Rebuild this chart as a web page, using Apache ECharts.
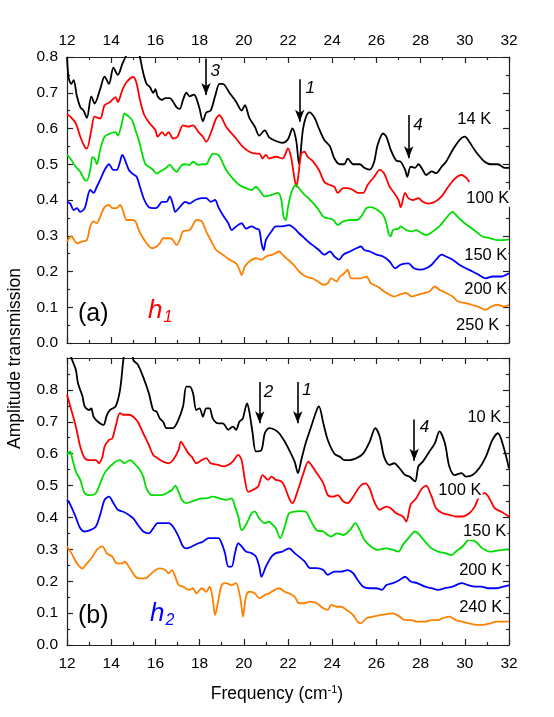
<!DOCTYPE html>
<html>
<head>
<meta charset="utf-8">
<script src="https://cdn.jsdelivr.net/npm/echarts@6/dist/echarts.min.js"></script>
<style>
  html, body { margin: 0; padding: 0; background: #fff; }
  #chart { width: 554px; height: 717px; }
</style>
</head>
<body>
<div id="chart"></div>
<script>
// ---- panel (a), h1 ----
const aBlack = [[12.0,0.80],[12.08,0.74],[12.2,0.725],[12.3,0.735],[12.45,0.69],[12.6,0.66],[12.75,0.65],[12.9,0.63],[13.1,0.69],[13.25,0.67],[13.5,0.71],[13.7,0.745],[13.9,0.725],[14.1,0.77],[14.3,0.75],[14.5,0.78],[14.65,0.80],[14.9,0.84],[15.1,0.85],[15.3,0.80],[15.45,0.755],[15.6,0.725],[15.75,0.716],[15.9,0.70],[16.0,0.71],[16.1,0.69],[16.3,0.68],[16.45,0.685],[16.65,0.685],[16.8,0.675],[16.95,0.66],[17.1,0.655],[17.25,0.68],[17.4,0.70],[17.55,0.69],[17.75,0.695],[17.85,0.685],[18.0,0.655],[18.15,0.62],[18.3,0.645],[18.5,0.65],[18.7,0.69],[18.9,0.725],[19.05,0.725],[19.35,0.70],[19.65,0.675],[19.9,0.65],[20.05,0.665],[20.25,0.63],[20.5,0.605],[20.7,0.58],[20.95,0.595],[21.15,0.575],[21.45,0.565],[21.75,0.56],[22.0,0.57],[22.2,0.60],[22.37,0.567],[22.5,0.50],[22.67,0.595],[22.8,0.63],[22.97,0.645],[23.2,0.63],[23.4,0.60],[23.65,0.567],[23.9,0.55],[24.1,0.516],[24.35,0.50],[24.55,0.50],[24.7,0.516],[24.95,0.50],[25.25,0.50],[25.45,0.49],[25.7,0.485],[25.9,0.507],[26.05,0.553],[26.3,0.586],[26.45,0.577],[26.65,0.54],[26.9,0.51],[27.1,0.507],[27.3,0.484],[27.4,0.465],[27.55,0.493],[27.75,0.49],[27.9,0.50],[28.1,0.484],[28.25,0.47],[28.5,0.48],[28.7,0.475],[28.95,0.493],[29.15,0.507],[29.45,0.54],[29.75,0.567],[30.0,0.577],[30.2,0.563],[30.5,0.535],[30.9,0.507],[31.2,0.50],[31.5,0.50],[31.8,0.49],[32.0,0.49]];
const aRed = [[12.0,0.64],[12.15,0.633],[12.4,0.614],[12.6,0.577],[12.8,0.549],[12.9,0.544],[13.1,0.595],[13.25,0.633],[13.5,0.628],[13.7,0.665],[13.95,0.674],[14.2,0.688],[14.3,0.674],[14.5,0.707],[14.7,0.73],[15.0,0.744],[15.15,0.726],[15.3,0.68],[15.5,0.637],[15.75,0.614],[16.0,0.595],[16.1,0.577],[16.3,0.59],[16.45,0.58],[16.6,0.59],[16.8,0.572],[17.0,0.577],[17.25,0.609],[17.5,0.605],[17.7,0.609],[17.95,0.59],[18.15,0.577],[18.3,0.563],[18.5,0.586],[18.75,0.628],[18.9,0.637],[19.2,0.605],[19.65,0.572],[19.95,0.549],[20.25,0.535],[20.55,0.53],[20.7,0.53],[20.85,0.516],[21.0,0.526],[21.15,0.516],[21.45,0.521],[21.75,0.516],[22.0,0.544],[22.15,0.516],[22.28,0.465],[22.38,0.437],[22.48,0.474],[22.6,0.53],[22.75,0.535],[22.9,0.52],[23.1,0.51],[23.4,0.484],[23.65,0.45],[23.9,0.442],[24.1,0.437],[24.25,0.42],[24.5,0.433],[24.7,0.433],[24.95,0.428],[25.15,0.42],[25.4,0.42],[25.6,0.442],[25.9,0.465],[26.15,0.484],[26.35,0.474],[26.6,0.437],[26.8,0.42],[27.0,0.40],[27.1,0.38],[27.3,0.42],[27.45,0.405],[27.65,0.40],[27.9,0.405],[28.1,0.395],[28.35,0.39],[28.65,0.395],[28.95,0.41],[29.25,0.437],[29.55,0.46],[29.85,0.47],[30.1,0.46],[30.2,0.45]];
const aGreen = [[12.0,0.526],[12.15,0.516],[12.4,0.493],[12.6,0.479],[12.8,0.456],[12.9,0.454],[13.05,0.484],[13.15,0.52],[13.25,0.516],[13.35,0.50],[13.5,0.54],[13.7,0.577],[13.95,0.586],[14.2,0.59],[14.3,0.58],[14.5,0.619],[14.6,0.642],[14.8,0.633],[14.95,0.623],[15.1,0.595],[15.25,0.567],[15.4,0.53],[15.55,0.50],[15.7,0.493],[15.9,0.484],[16.05,0.474],[16.2,0.479],[16.45,0.488],[16.65,0.498],[16.85,0.484],[16.95,0.479],[17.2,0.498],[17.35,0.50],[17.55,0.498],[17.7,0.507],[17.95,0.498],[18.1,0.50],[18.3,0.50],[18.45,0.516],[18.6,0.53],[18.85,0.526],[19.0,0.51],[19.2,0.484],[19.5,0.46],[19.8,0.442],[20.1,0.433],[20.35,0.428],[20.55,0.437],[20.7,0.428],[20.95,0.41],[21.25,0.414],[21.55,0.42],[21.7,0.40],[21.8,0.353],[21.9,0.344],[22.0,0.38],[22.15,0.42],[22.35,0.442],[22.45,0.437],[22.67,0.42],[23.0,0.40],[23.3,0.38],[23.6,0.353],[23.8,0.349],[24.05,0.344],[24.25,0.33],[24.5,0.34],[24.8,0.344],[25.1,0.344],[25.3,0.353],[25.55,0.377],[25.75,0.38],[26.05,0.372],[26.3,0.358],[26.45,0.335],[26.55,0.307],[26.65,0.298],[26.75,0.316],[27.0,0.32],[27.1,0.326],[27.35,0.316],[27.6,0.312],[27.8,0.316],[28.05,0.307],[28.25,0.302],[28.55,0.312],[28.85,0.326],[29.15,0.349],[29.45,0.367],[29.6,0.358],[29.9,0.34],[30.2,0.326],[30.5,0.312],[30.8,0.298],[31.15,0.293],[31.45,0.288],[31.75,0.288],[32.0,0.29]];
const aBlue = [[12.0,0.395],[12.15,0.39],[12.3,0.372],[12.45,0.377],[12.6,0.367],[12.8,0.377],[13.05,0.428],[13.2,0.42],[13.35,0.437],[13.5,0.456],[13.7,0.484],[13.9,0.50],[14.1,0.484],[14.25,0.484],[14.4,0.507],[14.5,0.526],[14.6,0.516],[14.8,0.484],[14.95,0.474],[15.15,0.465],[15.3,0.437],[15.5,0.40],[15.7,0.38],[15.9,0.377],[16.1,0.38],[16.3,0.395],[16.5,0.395],[16.65,0.41],[16.8,0.386],[16.9,0.367],[17.1,0.38],[17.35,0.395],[17.55,0.39],[17.8,0.40],[18.1,0.405],[18.3,0.405],[18.5,0.395],[18.7,0.40],[18.85,0.38],[19.05,0.358],[19.3,0.335],[19.45,0.316],[19.65,0.326],[19.9,0.335],[20.1,0.32],[20.35,0.326],[20.55,0.32],[20.7,0.316],[20.8,0.279],[20.9,0.26],[21.0,0.288],[21.25,0.312],[21.45,0.326],[21.75,0.326],[22.05,0.33],[22.3,0.32],[22.5,0.307],[22.75,0.293],[23.0,0.279],[23.2,0.27],[23.4,0.26],[23.65,0.247],[23.9,0.256],[24.1,0.242],[24.3,0.233],[24.5,0.247],[24.8,0.256],[25.1,0.265],[25.3,0.27],[25.45,0.26],[25.7,0.256],[26.0,0.247],[26.3,0.242],[26.6,0.228],[26.85,0.209],[27.1,0.219],[27.45,0.223],[27.7,0.209],[28.0,0.205],[28.25,0.209],[28.5,0.219],[28.7,0.233],[28.95,0.247],[29.15,0.242],[29.45,0.233],[29.75,0.219],[30.05,0.209],[30.35,0.20],[30.65,0.19],[30.95,0.181],[31.25,0.186],[31.65,0.186],[32.0,0.195]];
const aOrange = [[12.0,0.284],[12.2,0.298],[12.45,0.279],[12.7,0.284],[12.9,0.288],[13.05,0.326],[13.2,0.34],[13.35,0.335],[13.5,0.353],[13.7,0.38],[13.9,0.386],[14.05,0.377],[14.25,0.377],[14.4,0.386],[14.55,0.367],[14.7,0.344],[14.95,0.344],[15.1,0.34],[15.25,0.316],[15.4,0.298],[15.6,0.279],[15.85,0.265],[16.05,0.27],[16.2,0.279],[16.35,0.293],[16.65,0.293],[16.8,0.288],[16.95,0.274],[17.1,0.288],[17.25,0.312],[17.55,0.316],[17.7,0.33],[17.85,0.344],[18.1,0.34],[18.3,0.312],[18.5,0.288],[18.75,0.26],[19.05,0.247],[19.35,0.233],[19.65,0.223],[19.8,0.205],[19.9,0.19],[20.05,0.214],[20.25,0.228],[20.55,0.237],[20.8,0.233],[21.0,0.242],[21.3,0.247],[21.6,0.256],[21.75,0.247],[22.0,0.233],[22.25,0.219],[22.5,0.20],[22.8,0.186],[23.1,0.181],[23.35,0.172],[23.6,0.163],[23.8,0.167],[23.95,0.181],[24.2,0.172],[24.35,0.186],[24.55,0.195],[24.7,0.205],[24.85,0.181],[25.1,0.181],[25.3,0.181],[25.55,0.186],[25.75,0.167],[26.05,0.158],[26.35,0.144],[26.6,0.135],[26.8,0.13],[27.05,0.135],[27.35,0.14],[27.6,0.13],[27.9,0.135],[28.2,0.14],[28.4,0.144],[28.65,0.158],[28.85,0.149],[29.15,0.14],[29.45,0.13],[29.7,0.116],[30.0,0.112],[30.3,0.107],[30.6,0.102],[30.95,0.093],[31.2,0.102],[31.5,0.107],[31.75,0.102],[32.0,0.107]];

// ---- panel (b), h2 ----
const bBlack = [[12.0,0.95],[12.2,0.90],[12.4,0.863],[12.5,0.82],[12.7,0.78],[12.8,0.748],[13.0,0.737],[13.1,0.742],[13.2,0.716],[13.4,0.70],[13.65,0.69],[13.8,0.72],[13.95,0.737],[14.2,0.748],[14.4,0.80],[14.55,0.894],[14.7,0.96],[14.9,0.96],[15.0,0.894],[15.2,0.88],[15.45,0.84],[15.7,0.79],[15.9,0.737],[16.05,0.732],[16.2,0.71],[16.35,0.70],[16.5,0.68],[16.65,0.68],[16.8,0.68],[17.0,0.70],[17.25,0.748],[17.4,0.81],[17.55,0.81],[17.7,0.79],[17.85,0.737],[18.0,0.742],[18.15,0.716],[18.3,0.742],[18.45,0.742],[18.6,0.71],[18.85,0.695],[19.05,0.695],[19.3,0.675],[19.5,0.685],[19.65,0.675],[19.8,0.70],[19.95,0.71],[20.15,0.758],[20.25,0.732],[20.4,0.664],[20.55,0.607],[20.8,0.612],[20.95,0.664],[21.15,0.68],[21.4,0.675],[21.6,0.664],[21.85,0.638],[22.05,0.612],[22.3,0.575],[22.45,0.539],[22.6,0.58],[22.8,0.633],[23.05,0.685],[23.3,0.737],[23.4,0.748],[23.6,0.695],[23.8,0.643],[24.1,0.60],[24.35,0.59],[24.55,0.58],[24.8,0.58],[25.1,0.586],[25.4,0.60],[25.7,0.638],[25.95,0.68],[26.15,0.654],[26.35,0.59],[26.6,0.565],[26.8,0.57],[27.05,0.554],[27.3,0.533],[27.5,0.528],[27.75,0.513],[27.9,0.56],[28.1,0.575],[28.4,0.607],[28.65,0.633],[28.85,0.67],[29.1,0.633],[29.3,0.56],[29.55,0.533],[29.85,0.539],[30.05,0.528],[30.35,0.533],[30.65,0.554],[30.95,0.59],[31.25,0.643],[31.5,0.664],[31.75,0.622],[32.0,0.554]];
const bRed = [[12.0,0.785],[12.15,0.748],[12.4,0.685],[12.6,0.622],[12.8,0.586],[13.05,0.58],[13.3,0.58],[13.45,0.57],[13.6,0.59],[13.7,0.622],[13.9,0.643],[14.05,0.648],[14.2,0.685],[14.4,0.727],[14.55,0.722],[14.8,0.722],[15.0,0.716],[15.2,0.70],[15.45,0.664],[15.7,0.628],[15.9,0.596],[16.1,0.586],[16.35,0.575],[16.6,0.57],[16.8,0.58],[17.05,0.612],[17.15,0.638],[17.35,0.617],[17.5,0.60],[17.65,0.59],[17.85,0.57],[18.1,0.58],[18.3,0.586],[18.5,0.57],[18.85,0.565],[19.05,0.56],[19.3,0.565],[19.5,0.575],[19.75,0.596],[19.9,0.58],[20.05,0.518],[20.2,0.48],[20.4,0.486],[20.65,0.497],[20.85,0.533],[21.1,0.518],[21.25,0.528],[21.45,0.518],[21.7,0.513],[21.85,0.497],[22.05,0.46],[22.2,0.445],[22.45,0.486],[22.7,0.539],[22.92,0.575],[23.05,0.565],[23.3,0.539],[23.6,0.507],[23.8,0.47],[24.05,0.465],[24.25,0.47],[24.5,0.45],[24.7,0.445],[24.95,0.465],[25.25,0.497],[25.5,0.507],[25.7,0.49],[25.9,0.45],[26.15,0.424],[26.45,0.434],[26.65,0.429],[26.9,0.413],[27.2,0.403],[27.35,0.387],[27.55,0.44],[27.8,0.46],[28.05,0.49],[28.25,0.50],[28.5,0.465],[28.7,0.429],[29.0,0.413],[29.3,0.408],[29.6,0.403],[29.9,0.403],[30.2,0.413],[30.45,0.434],[30.65,0.465],[30.9,0.476],[31.15,0.455],[31.35,0.429],[31.65,0.418],[32.0,0.403]];
const bGreen = [[12.0,0.596],[12.15,0.607],[12.2,0.596],[12.4,0.544],[12.6,0.518],[12.8,0.476],[13.05,0.47],[13.3,0.476],[13.5,0.507],[13.7,0.539],[13.95,0.56],[14.2,0.575],[14.4,0.58],[14.6,0.57],[14.85,0.58],[15.1,0.565],[15.25,0.554],[15.45,0.528],[15.6,0.49],[15.85,0.47],[16.05,0.47],[16.3,0.47],[16.5,0.476],[16.75,0.486],[16.9,0.50],[17.05,0.48],[17.2,0.455],[17.4,0.445],[17.65,0.45],[17.85,0.455],[18.1,0.46],[18.3,0.46],[18.6,0.465],[18.9,0.46],[19.2,0.455],[19.45,0.46],[19.6,0.434],[19.75,0.403],[19.9,0.36],[20.1,0.377],[20.35,0.413],[20.5,0.418],[20.7,0.397],[20.95,0.382],[21.15,0.387],[21.3,0.377],[21.45,0.366],[21.65,0.335],[21.85,0.371],[22.05,0.413],[22.3,0.418],[22.5,0.42],[22.8,0.418],[23.05,0.387],[23.3,0.36],[23.6,0.356],[23.8,0.345],[23.95,0.34],[24.2,0.35],[24.5,0.345],[24.8,0.36],[25.05,0.382],[25.25,0.36],[25.45,0.33],[25.75,0.309],[26.05,0.298],[26.45,0.303],[26.75,0.298],[27.0,0.293],[27.2,0.314],[27.45,0.335],[27.75,0.356],[27.95,0.345],[28.2,0.324],[28.5,0.303],[28.8,0.293],[29.1,0.288],[29.4,0.282],[29.6,0.293],[29.9,0.309],[30.2,0.33],[30.5,0.324],[30.8,0.303],[31.15,0.293],[31.45,0.296],[31.75,0.298],[32.0,0.30]];
const bBlue = [[12.0,0.455],[12.15,0.44],[12.4,0.40],[12.6,0.366],[12.8,0.356],[13.05,0.36],[13.3,0.371],[13.5,0.408],[13.7,0.455],[13.9,0.465],[14.1,0.445],[14.3,0.424],[14.55,0.418],[14.8,0.408],[15.0,0.397],[15.2,0.377],[15.45,0.356],[15.7,0.35],[15.9,0.366],[16.1,0.382],[16.35,0.382],[16.6,0.382],[16.8,0.371],[17.05,0.34],[17.25,0.309],[17.4,0.303],[17.65,0.309],[17.95,0.319],[18.15,0.324],[18.4,0.335],[18.6,0.335],[18.85,0.335],[19.0,0.319],[19.15,0.288],[19.3,0.246],[19.45,0.246],[19.6,0.288],[19.75,0.319],[19.9,0.309],[20.1,0.293],[20.35,0.288],[20.55,0.277],[20.7,0.246],[20.8,0.214],[21.0,0.246],[21.25,0.277],[21.45,0.288],[21.75,0.293],[22.05,0.303],[22.3,0.288],[22.5,0.277],[22.75,0.262],[23.0,0.241],[23.3,0.241],[23.6,0.235],[23.8,0.22],[24.1,0.23],[24.4,0.23],[24.7,0.235],[24.95,0.225],[25.15,0.204],[25.4,0.183],[25.7,0.178],[26.0,0.178],[26.25,0.173],[26.45,0.188],[26.75,0.194],[27.05,0.204],[27.3,0.214],[27.55,0.199],[27.85,0.194],[28.2,0.183],[28.5,0.178],[28.8,0.173],[29.1,0.178],[29.45,0.183],[29.85,0.194],[30.15,0.188],[30.45,0.183],[30.75,0.183],[31.05,0.178],[31.45,0.178],[31.75,0.183],[32.0,0.188]];
const bOrange = [[12.0,0.309],[12.2,0.288],[12.45,0.256],[12.7,0.24],[12.9,0.256],[13.1,0.272],[13.35,0.298],[13.6,0.309],[13.8,0.288],[14.05,0.277],[14.25,0.256],[14.5,0.256],[14.6,0.261],[14.85,0.24],[15.1,0.214],[15.3,0.209],[15.55,0.209],[15.75,0.22],[16.0,0.235],[16.2,0.24],[16.45,0.235],[16.6,0.225],[16.75,0.235],[16.9,0.214],[17.05,0.188],[17.25,0.183],[17.5,0.173],[17.7,0.178],[17.85,0.162],[18.1,0.178],[18.3,0.167],[18.45,0.183],[18.55,0.162],[18.62,0.131],[18.7,0.094],[18.85,0.141],[19.0,0.188],[19.2,0.194],[19.45,0.188],[19.65,0.194],[19.8,0.162],[19.9,0.12],[19.96,0.089],[20.1,0.152],[20.25,0.167],[20.5,0.162],[20.7,0.146],[20.95,0.157],[21.15,0.162],[21.4,0.173],[21.6,0.178],[21.85,0.167],[22.05,0.162],[22.3,0.152],[22.5,0.131],[22.75,0.131],[23.0,0.136],[23.3,0.131],[23.6,0.115],[23.8,0.11],[23.95,0.126],[24.2,0.12],[24.4,0.12],[24.65,0.11],[24.95,0.094],[25.15,0.073],[25.3,0.068],[25.55,0.084],[25.85,0.089],[26.15,0.094],[26.45,0.097],[26.75,0.099],[27.05,0.089],[27.3,0.078],[27.55,0.078],[27.85,0.073],[28.2,0.073],[28.5,0.078],[28.8,0.078],[29.0,0.084],[29.3,0.089],[29.6,0.078],[29.9,0.073],[30.2,0.068],[30.5,0.063],[30.8,0.063],[31.15,0.068],[31.45,0.073],[31.75,0.073],[32.0,0.073]];

// curve labels: [x, y, text]
const aTempLabels = [[31.24,0.624,'14 K'],[32.06,0.405,'100 K'],[31.97,0.246,'150 K'],[31.97,0.151,'200 K'],[31.6,0.05,'250 K']];
const bTempLabels = [[31.7,0.712,'10 K'],[30.8,0.486,'100 K'],[31.92,0.357,'150 K'],[31.74,0.235,'200 K'],[31.74,0.119,'240 K']];

// arrows: [x, yTop, yHead]; arrow numbers: [x, y, text]
const aArrows = [[18.29,0.796,0.694],[22.53,0.738,0.619],[27.46,0.638,0.517]];
const aArrowText = [[18.71,0.759,'3'],[23.01,0.712,'1'],[27.88,0.61,'4']];
const bArrows = [[20.72,0.825,0.695],[22.44,0.825,0.695],[27.71,0.707,0.578]];
const bArrowText = [[21.12,0.794,'2'],[22.86,0.80,'1'],[28.18,0.682,'4']];

const xTicks = { min: 12, max: 32, interval: 2 };
const colors = ['#000000', '#ff0000', '#00dd00', '#0000ff', '#ff8000'];
const FONT = 'Liberation Sans, Arial, sans-serif';

const chart = echarts.init(document.getElementById('chart'));

function xAxis(grid, pos, showLabel) {
  return {
    type: 'value', gridIndex: grid, position: pos,
    min: xTicks.min, max: xTicks.max, interval: xTicks.interval,
    axisLine: { show: true, onZero: false, lineStyle: { color: '#222', width: 1.2 } },
    axisTick: { show: true, inside: true, length: 6, lineStyle: { color: '#222', width: 1.2 } },
    minorTick: { show: true, splitNumber: 2, length: 3, lineStyle: { color: '#222', width: 1.2 } },
    splitLine: { show: false },
    axisLabel: { show: showLabel, color: '#000', fontSize: 15.5, fontFamily: FONT, margin: pos === 'bottom' ? 11 : 8 }
  };
}
function yAxis(grid, pos, max, showLabel) {
  return {
    type: 'value', gridIndex: grid, position: pos,
    min: 0, max: max, interval: 0.1,
    axisLine: { show: true, onZero: false, lineStyle: { color: '#222', width: 1.2 } },
    axisTick: { show: true, inside: true, length: 6, lineStyle: { color: '#222', width: 1.2 } },
    minorTick: { show: true, splitNumber: 2, length: 3, lineStyle: { color: '#222', width: 1.2 } },
    splitLine: { show: false },
    axisLabel: {
      show: showLabel, color: '#000', fontSize: 15.5, fontFamily: FONT, margin: 9,
      formatter: v => (v > 0.85 ? '' : v.toFixed(1))
    }
  };
}

function curve(data, color, axis) {
  return {
    type: 'line', data: data, xAxisIndex: axis, yAxisIndex: axis,
    showSymbol: false, smooth: 0.3, clip: true,
    lineStyle: { color: color, width: 1.8 }, z: 3
  };
}

function tempLabels(data, axis) {
  return {
    type: 'scatter', data: data, xAxisIndex: axis, yAxisIndex: axis,
    symbolSize: 0, clip: false, z: 10,
    itemStyle: { opacity: 1 },
    label: {
      show: true, position: 'left', distance: 0, formatter: p => p.data[2],
      color: '#000', fontSize: 16.5, fontFamily: FONT,
      backgroundColor: '#fff', padding: [0, 1, 0, 1]
    }
  };
}

function arrowMarks(arrows, texts, axis) {
  return {
    type: 'scatter', data: texts, xAxisIndex: axis, yAxisIndex: axis,
    symbolSize: 0, clip: false, z: 10,
    itemStyle: { opacity: 1 },
    label: {
      show: true, position: 'inside', formatter: p => p.data[2],
      color: '#000', fontSize: 17, fontFamily: FONT,
      fontStyle: 'italic'
    },
    markLine: {
      silent: true, symbol: ['none', 'arrow'], symbolSize: [7, 12],
      lineStyle: { color: '#000', width: 1.6, type: 'solid', opacity: 1 },
      label: { show: false },
      data: arrows.map(a => [{ coord: [a[0], a[1]] }, { coord: [a[0], a[2]] }])
    }
  };
}

const aCurves = [aBlack, aRed, aGreen, aBlue, aOrange];
const bCurves = [bBlack, bRed, bGreen, bBlue, bOrange];

chart.setOption({
  animation: false,
  backgroundColor: '#fff',
  grid: [
    { left: 67, right: 45, top: 57, height: 286 },
    { left: 67, right: 45, top: 358, height: 287 }
  ],
  xAxis: [
    xAxis(0, 'bottom', false), xAxis(0, 'top', true),
    xAxis(1, 'bottom', true), xAxis(1, 'top', false)
  ],
  yAxis: [
    yAxis(0, 'left', 0.8, true), yAxis(0, 'right', 0.8, false),
    yAxis(1, 'left', 0.9, true), yAxis(1, 'right', 0.9, false)
  ],
  series: [
    ...aCurves.map((d, i) => curve(d, colors[i], 0)),
    ...bCurves.map((d, i) => curve(d, colors[i], 2)),
    tempLabels(aTempLabels, 0),
    tempLabels(bTempLabels, 2),
    arrowMarks(aArrows, aArrowText, 0),
    arrowMarks(bArrows, bArrowText, 2)
  ],
  graphic: [
    {
      type: 'text', left: 6, top: 'middle', rotation: Math.PI / 2,
      style: { text: 'Amplitude transmission', font: '17.5px ' + FONT, fill: '#000' }
    },
    {
      type: 'text', left: 'center', top: 684,
      style: {
        text: '{n|Frequency (cm}{s|-1}{n|)}',
        rich: {
          n: { font: '17.5px ' + FONT, fill: '#000' },
          s: { font: '11px ' + FONT, fill: '#000', padding: [0, 0, 10, 0] }
        }
      }
    },
    { type: 'text', left: 78, top: 302, style: { text: '(a)', font: '25px ' + FONT, fill: '#000' } },
    {
      type: 'text', left: 148, top: 298,
      style: {
        text: '{h|h}{s|1}',
        rich: {
          h: { font: 'italic 26px ' + FONT, fill: '#ff0000' },
          s: { font: 'italic 16px ' + FONT, fill: '#ff0000', padding: [14, 0, 0, 1] }
        }
      }
    },
    { type: 'text', left: 78, top: 604, style: { text: '(b)', font: '25px ' + FONT, fill: '#000' } },
    {
      type: 'text', left: 150, top: 601,
      style: {
        text: '{h|h}{s|2}',
        rich: {
          h: { font: 'italic 26px ' + FONT, fill: '#0000ff' },
          s: { font: 'italic 16px ' + FONT, fill: '#0000ff', padding: [14, 0, 0, 1] }
        }
      }
    }
  ]
});
</script>
</body>
</html>
